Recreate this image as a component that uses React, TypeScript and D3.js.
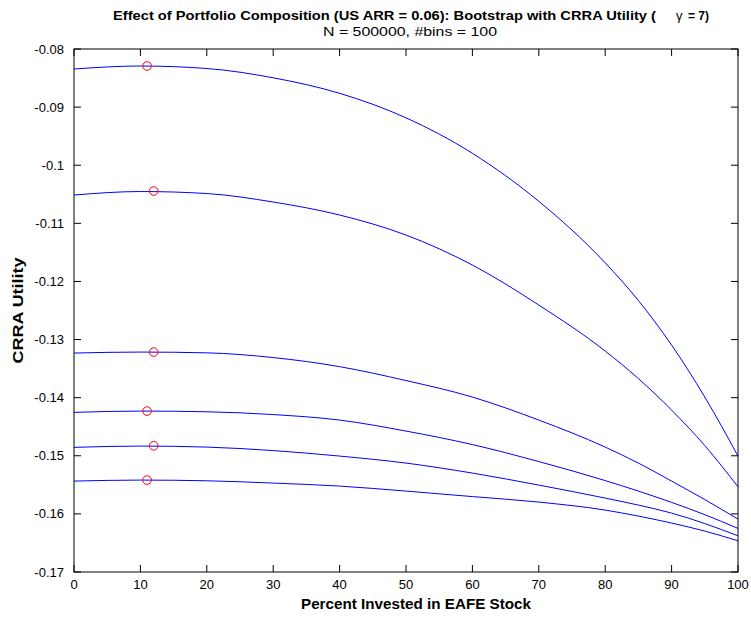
import React from "react";
import * as d3 from "d3";

const xs = [0, 10, 20, 30, 40, 50, 60, 70, 80, 85, 90, 95, 100];
const curve1 = [-0.083442, -0.082926, -0.083356, -0.084957, -0.087625, -0.091842, -0.097952, -0.106213, -0.116799, -0.123287, -0.130947, -0.139897, -0.150052];
const curve2 = [-0.105129, -0.104527, -0.104871, -0.106334, -0.108571, -0.112014, -0.117177, -0.124062, -0.131979, -0.136713, -0.142134, -0.148244, -0.155336];
const curve3 = [-0.132324, -0.132151, -0.132289, -0.133098, -0.134664, -0.137057, -0.139897, -0.143855, -0.148503, -0.151256, -0.154355, -0.157539, -0.160895];
const curve4 = [-0.14253, -0.142306, -0.142427, -0.142909, -0.143855, -0.145749, -0.148072, -0.150998, -0.154269, -0.156076, -0.158021, -0.160138, -0.162496];
const curve5 = [-0.148554, -0.14833, -0.148503, -0.149105, -0.150052, -0.151256, -0.152978, -0.155043, -0.157281, -0.158485, -0.159862, -0.16167, -0.163769];
const curve6 = [-0.154355, -0.154182, -0.154303, -0.154699, -0.155215, -0.156076, -0.157022, -0.157969, -0.159346, -0.160379, -0.161583, -0.16296, -0.16463];
const series = [curve1, curve2, curve3, curve4, curve5, curve6];

const peakX = [11, 12, 12, 11, 12, 11];
const peakY = [-0.08293, -0.10444, -0.13215, -0.14231, -0.14828, -0.15418];

const xTicks = [0, 10, 20, 30, 40, 50, 60, 70, 80, 90, 100];
const yTicks = [-0.08, -0.09, -0.1, -0.11, -0.12, -0.13, -0.14, -0.15, -0.16, -0.17];

const L = 74, R = 738, T = 49, B = 572;
const font = "'Liberation Sans', Arial, Helvetica, sans-serif";

export default function App() {
  const x = d3.scaleLinear().domain([0, 100]).range([L, R]);
  const y = d3.scaleLinear().domain([-0.17, -0.08]).range([B, T]);
  const line = d3
    .line<number>()
    .x((_, i) => x(xs[i]))
    .y((d) => y(d))
    .curve(d3.curveMonotoneX);
  const tl = 7;
  return (
    <svg
      width={751}
      height={618}
      style={{ position: "absolute", left: 0, top: 0, background: "#fff" }}
      fontFamily={font}
    >
      <rect x={0} y={0} width={751} height={618} fill="#fff" />
      {series.map((s, i) => (
        <path key={i} d={line(s) || ""} fill="none" stroke="#0000ff" strokeWidth={1} />
      ))}
      {peakX.map((px, i) => (
        <circle key={i} cx={x(px)} cy={y(peakY[i])} r={4.3} fill="none" stroke="#ff0000" strokeWidth={1} />
      ))}
      {xTicks.map((t) => (
        <g key={"x" + t}>
          <line x1={x(t)} x2={x(t)} y1={B} y2={B - tl} stroke="#000" />
          <line x1={x(t)} x2={x(t)} y1={T} y2={T + tl} stroke="#000" />
          <text x={x(t)} y={589} fontSize={13} textAnchor="middle" fill="#000">
            {t}
          </text>
        </g>
      ))}
      {yTicks.map((t) => (
        <g key={"y" + t}>
          <line x1={L} x2={L + tl} y1={y(t)} y2={y(t)} stroke="#000" />
          <line x1={R} x2={R - tl} y1={y(t)} y2={y(t)} stroke="#000" />
          <text x={64} y={y(t) + 4.5} fontSize={13} textAnchor="end" fill="#000">
            {String(t)}
          </text>
        </g>
      ))}
      <rect x={L} y={T} width={R - L} height={B - T} fill="none" stroke="#000" strokeWidth={1} />
      <text x={113} y={20} fontSize={13} fontWeight="bold" fill="#000" textLength={543} lengthAdjust="spacingAndGlyphs">
        Effect of Portfolio Composition (US ARR = 0.06): Bootstrap with CRRA Utility (
      </text>
      <text x={676} y={20} fontSize={13} fill="#000">
        γ
      </text>
      <text x={688} y={20} fontSize={13} fontWeight="bold" fill="#000" textLength={21} lengthAdjust="spacingAndGlyphs">
        = 7)
      </text>
      <text x={323} y={36} fontSize={13} fill="#000" textLength={174} lengthAdjust="spacingAndGlyphs">
        N = 500000, #bins = 100
      </text>
      <text x={301} y={609} fontSize={15} fontWeight="bold" fill="#000" textLength={230} lengthAdjust="spacingAndGlyphs">
        Percent Invested in EAFE Stock
      </text>
      <text
        transform={`translate(23, ${(T + B) / 2}) rotate(-90)`}
        fontSize={15}
        fontWeight="bold"
        textAnchor="middle"
        fill="#000"
        textLength={106}
        lengthAdjust="spacingAndGlyphs"
      >
        CRRA Utility
      </text>
    </svg>
  );
}
